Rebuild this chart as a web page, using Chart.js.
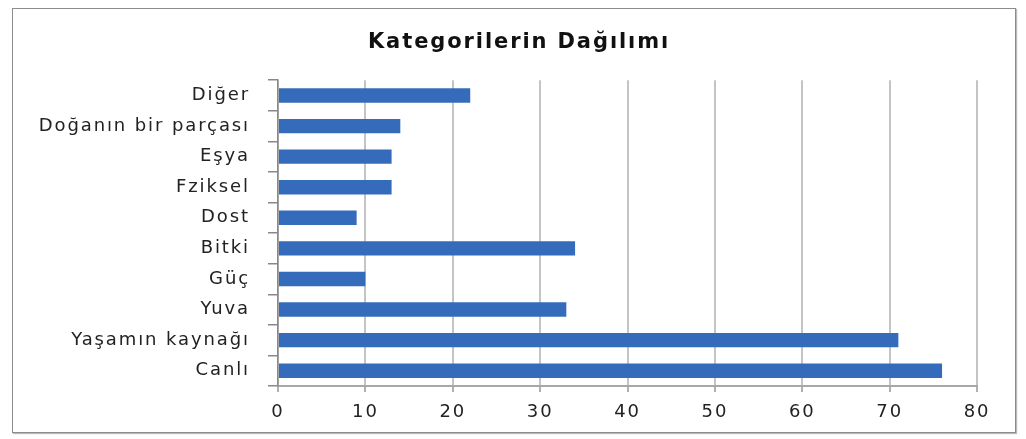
<!DOCTYPE html>
<html lang="tr">
<head>
<meta charset="UTF-8">
<title>Kategorilerin Dağılımı</title>
<style>
    body { margin: 0; background: #fff; }
    .frame {
        position: absolute; left: 12px; top: 8px;
        width: 1002px; height: 423px;
        border: 1px solid #8c8c8c;
        box-shadow: 1px 1px 1px #bbb;
        background: #fff;
    }
    canvas { display: block; }
</style>
</head>
<body>
<div class="frame">
    <canvas id="chart" width="1002" height="423"></canvas>
</div>

<script src="https://cdn.jsdelivr.net/npm/chart.js"></script>
<script>
    // veriler
    const categories = ['Diğer', 'Doğanın bir parçası', 'Eşya', 'Fziksel', 'Dost', 'Bitki', 'Güç', 'Yuva', 'Yaşamın kaynağı', 'Canlı'];
    const counts = [22, 14, 13, 13, 9, 34, 10, 33, 71, 76];
    const xTicks = [0, 10, 20, 30, 40, 50, 60, 70, 80];

    const font = "'DejaVu Sans', Verdana, sans-serif";

    // the original text is drawn wide, so spread the letters a bit
    const spacing = {
        id: 'spacing',
        beforeUpdate: c => { c.ctx.letterSpacing = '1.9px'; },
        beforeDraw: c => { c.ctx.letterSpacing = '1.9px'; }
    };

    new Chart(document.getElementById('chart'), {
        type: 'bar',
        data: {
            labels: categories,
            datasets: [{
                data: counts,
                backgroundColor: '#356bbb',
                borderWidth: 0,
                categoryPercentage: 1,
                barPercentage: 0.47
            }]
        },
        options: {
            indexAxis: 'y',
            responsive: false,
            animation: false,
            // title sits a bit right of the canvas centre, so let the layout run past the right edge
            layout: { padding: { left: 0, right: -10, top: 0, bottom: 0 } },
            plugins: {
                legend: { display: false },
                tooltip: { enabled: false },
                title: {
                    display: true,
                    text: 'Kategorilerin Dağılımı',
                    color: '#111',
                    font: { family: font, size: 21, weight: 'bold' },
                    padding: { top: 21, bottom: 25 }
                }
            },
            scales: {
                x: {
                    min: 0,
                    max: 80,
                    afterBuildTicks: s => { s.ticks = xTicks.map(v => ({ value: v })); },
                    grid: { color: '#c4c4c4', lineWidth: 2, tickLength: 6, tickColor: '#b0b0b0' },
                    border: { color: '#a8a8a8', width: 2 },
                    ticks: { color: '#222', font: { family: font, size: 18 }, padding: 10, maxRotation: 0 },
                    afterFit: s => { s.height = 46; }
                },
                y: {
                    grid: { drawOnChartArea: false, tickLength: 10, tickColor: '#888', lineWidth: 1.5, offset: true },
                    border: { color: '#888', width: 1.5 },
                    ticks: { color: '#222', font: { family: font, size: 18 }, padding: 18, autoSkip: false },
                    afterFit: s => { s.width = 265; }
                },
                // empty box on the right to keep the plot off the frame edge
                yRight: {
                    type: 'linear',
                    axis: 'y',
                    position: 'right',
                    grid: { display: false },
                    border: { display: false },
                    ticks: { display: false },
                    afterFit: s => { s.width = 48; }
                }
            }
        },
        plugins: [spacing]
    });
</script>
</body>
</html>
